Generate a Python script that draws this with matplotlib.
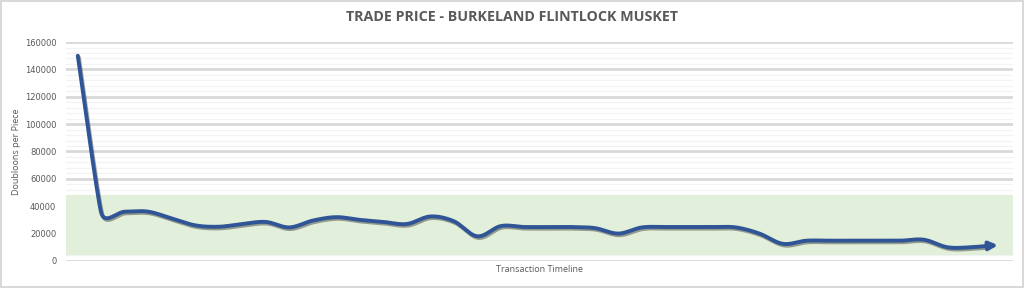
import numpy as np
import matplotlib.pyplot as plt
import matplotlib.patheffects as pe

# price per transaction
prices = [150000, 35000, 36000, 36000, 31000, 26000, 25000, 27000, 28500, 24500,
          29500, 32000, 30000, 28500, 27000, 32500, 29000, 18000, 25500, 24800,
          24800, 24800, 24000, 20000, 24500, 24800, 24800, 24800, 24500, 20000,
          12500, 14800, 14800, 14800, 14800, 14800, 15500, 10000, 10000, 11500]
band_low = 4400
band_high = 48000
yticks = [0, 20000, 40000, 60000, 80000, 100000, 120000, 140000, 160000]

title = 'TRADE PRICE - BURKELAND FLINTLOCK MUSKET'
xlabel = 'Transaction Timeline'
ylabel = 'Doubloons per Piece'

txt = '#595959'
line_col = '#2F5597'


def smooth(pts, n=24, k=0.55):
    # bezier smoothing in pixel space (catmull-rom handles, clamped
    # so a long steep segment does not overshoot the short ones)
    pts = np.asarray(pts, float)
    P = np.vstack([pts[0], pts, pts[-1]])
    seg = np.linalg.norm(np.diff(pts, axis=0), axis=1)
    d = (P[2:] - P[:-2]) / 6.0
    for i in range(len(pts)):
        near = [seg[j] for j in (i - 1, i) if 0 <= j < len(seg)]
        lim = k * min(near)
        L = np.linalg.norm(d[i])
        if L > lim:
            d[i] *= lim / L
    t = np.linspace(0, 1, n, endpoint=False)[:, None]
    out = []
    for i in range(len(pts) - 1):
        b0, b3 = pts[i], pts[i + 1]
        b1, b2 = b0 + d[i], b3 - d[i + 1]
        out.append((1 - t) ** 3 * b0 + 3 * (1 - t) ** 2 * t * b1
                   + 3 * (1 - t) * t ** 2 * b2 + t ** 3 * b3)
    out.append(pts[-1:])
    return np.vstack(out)


fig = plt.figure(figsize=(10.24, 2.88), dpi=100)
fig.patch.set_edgecolor('#D9D9D9')
fig.patch.set_linewidth(1.5)
ax = fig.add_axes([0.0645, 0.094, 0.925, 0.760])

ax.set_ylim(0, 160000)
ax.set_xlim(-0.5, 39.8)
ax.set_yticks(yticks)
ax.set_yticks(np.arange(0, 160001, 4000), minor=True)
ax.grid(axis='y', which='major', color='#D9D9D9', linewidth=2)
ax.grid(axis='y', which='minor', color='#F2F3F3', linewidth=0.9)
ax.set_axisbelow(True)
ax.set_xticks([])
for s in ax.spines.values():
    s.set_visible(False)
ax.tick_params(axis='y', which='both', length=0, labelsize=6, labelcolor=txt, pad=7)

ax.axhspan(band_low, band_high, color='#E2EFDA', zorder=1.5, linewidth=0)

# smooth in pixel space, then back to data
xi = np.arange(len(prices))
pix = ax.transData.transform(np.column_stack([xi, prices]))
curve = ax.transData.inverted().transform(smooth(pix))
sx, sy = curve[:, 0], curve[:, 1]

shadow = [pe.SimpleLineShadow(offset=(0.8, -1.2), shadow_color='k', alpha=0.35),
          pe.Normal()]
ax.plot(sx[:-8], sy[:-8], color=line_col, linewidth=2.8, solid_capstyle='round',
        zorder=3, path_effects=shadow)
ax.annotate('', xy=(sx[-1] + 0.15, sy[-1]), xytext=(sx[-9], sy[-9]),
            arrowprops=dict(arrowstyle='-|>,head_length=0.5,head_width=0.25',
                            color=line_col, lw=2.8, shrinkA=0, shrinkB=0),
            zorder=3)

ax.set_xlabel(xlabel, fontsize=6.5, color=txt, labelpad=3, family='Open Sans')
fig.text(17 / 1024, 0.474, ylabel, rotation=90, ha='center', va='center',
         fontsize=6.5, color=txt, family='Open Sans')
fig.suptitle(title, y=0.965, fontsize=10.3, fontweight='bold', color=txt,
             family='Open Sans')

fig.savefig('out.png', dpi=100, edgecolor=fig.get_edgecolor())
